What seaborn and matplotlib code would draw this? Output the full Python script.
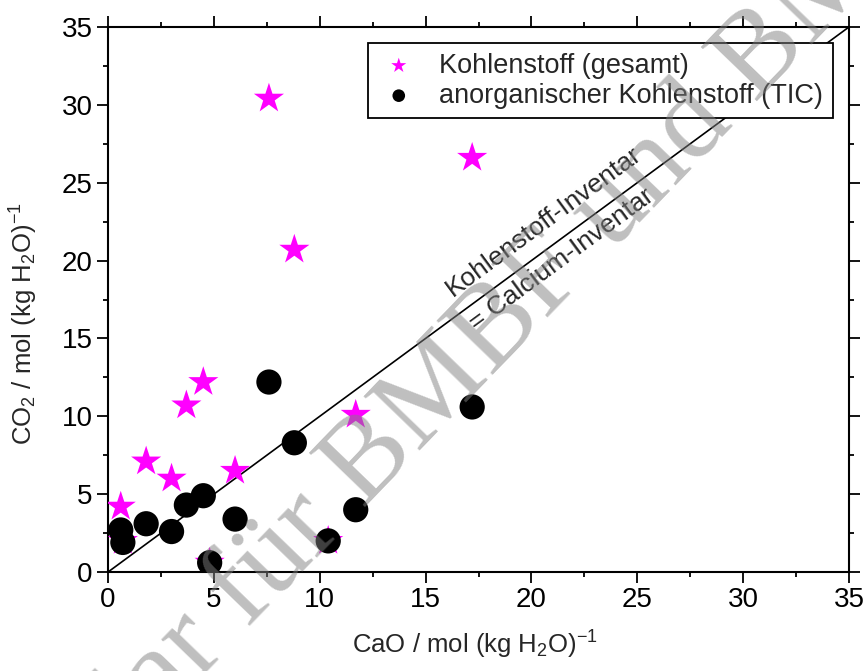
import numpy as np
import pandas as pd
import matplotlib
matplotlib.use("Agg")
import matplotlib.pyplot as plt
import seaborn as sns
from matplotlib.ticker import MultipleLocator

# Kohlenstoff (gesamt) und anorganischer Kohlenstoff (TIC) gegen CaO
cao_total = [7.6, 17.2, 8.8, 4.5, 3.7, 11.7, 1.8, 3.0, 6.0, 0.6, 0.7, 4.8, 10.4]
co2_total = [30.4, 26.6, 20.7, 12.2, 10.7, 10.1, 7.1, 6.0, 6.5, 4.2, 2.0, 0.6, 2.0]
cao_tic = [7.6, 17.2, 8.8, 11.7, 4.5, 3.7, 6.0, 1.8, 3.0, 0.6, 0.7, 4.8, 10.4]
co2_tic = [12.2, 10.6, 8.3, 4.0, 4.9, 4.3, 3.4, 3.1, 2.6, 2.7, 1.9, 0.6, 2.0]

label_total = "Kohlenstoff (gesamt)"
label_tic = "anorganischer Kohlenstoff (TIC)"

sns.set_style("ticks")
plt.rcParams["font.family"] = ["Liberation Sans", "DejaVu Sans"]
plt.rcParams["mathtext.fontset"] = "custom"
plt.rcParams["mathtext.rm"] = "Liberation Sans"
plt.rcParams["mathtext.it"] = "Liberation Sans:italic"
plt.rcParams["mathtext.bf"] = "Liberation Sans:bold"

fig = plt.figure(figsize=(8.65, 6.71), dpi=100)
ax = fig.add_axes([0.1249, 0.1475, 0.8566, 0.8123])

sns.scatterplot(x=cao_total, y=co2_total, marker="*", s=520, color="#ff00ff",
                edgecolor="none", linewidth=0, label=label_total, ax=ax, zorder=3)
sns.scatterplot(x=cao_tic, y=co2_tic, marker="o", s=330, color="black",
                edgecolor="none", linewidth=0, label=label_tic, ax=ax, zorder=4)

ax.axline((0, 0), slope=1, color="black", lw=1.2, zorder=2)

ax.text(20.6, 22.5, "Kohlenstoff-Inventar", rotation=45, transform_rotates_text=True,
        rotation_mode="anchor", ha="center", va="center", fontsize=19)
ax.text(21.4, 20.1, "= Calcium-Inventar", rotation=45, transform_rotates_text=True,
        rotation_mode="anchor", ha="center", va="center", fontsize=19)

ax.set_xlim(0, 35)
ax.set_ylim(0, 35)
ax.xaxis.set_major_locator(MultipleLocator(5))
ax.xaxis.set_minor_locator(MultipleLocator(2.5))
ax.yaxis.set_major_locator(MultipleLocator(5))
ax.yaxis.set_minor_locator(MultipleLocator(2.5))
ax.tick_params(which="both", direction="out", top=True, right=True, width=1.3,
               labelsize=20, colors="black", pad=3)
ax.tick_params(which="major", length=8)
ax.tick_params(which="minor", length=3.5)
for sp in ax.spines.values():
    sp.set_visible(True)
    sp.set_linewidth(1.5)
    sp.set_color("black")

ax.set_xlabel("CaO / mol (kg H$_2$O)$^{-1}$", fontsize=18.5)
ax.set_ylabel("CO$_2$ / mol (kg H$_2$O)$^{-1}$", fontsize=18.5)
ax.xaxis.set_label_coords(0.495, -0.104)
ax.yaxis.set_label_coords(-0.092, 0.455)

leg = ax.legend(loc="upper right", fontsize=19.5, frameon=True, fancybox=False,
                markerscale=0.5, borderaxespad=0.6, handletextpad=0.7,
                borderpad=0.35, labelspacing=0.15, handlelength=1.6)
leg.get_frame().set_edgecolor("black")
leg.get_frame().set_linewidth(1.3)
leg.get_frame().set_alpha(1)

# Wasserzeichen
fig.text(-0.106, -0.461, "Exemplar für BMBF und BMU", rotation=46, rotation_mode="anchor",
         ha="left", va="baseline", fontsize=85, family=["Liberation Serif", "DejaVu Serif"],
         color="#808080", alpha=0.5, zorder=10)

fig.savefig("out.png", dpi=100)
